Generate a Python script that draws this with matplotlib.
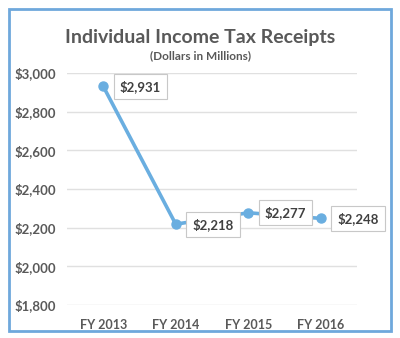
import matplotlib.pyplot as plt
from matplotlib.patches import Rectangle

years = ["FY 2013", "FY 2014", "FY 2015", "FY 2016"]
receipts = [2931, 2218, 2277, 2248]
yticks = [1800, 2000, 2200, 2400, 2600, 2800, 3000]

plt.rcParams['font.family'] = ['Lato', 'DejaVu Sans']

fig = plt.figure(figsize=(4, 3.38), dpi=100)
ax = fig.add_axes([67 / 400, 1 - 305 / 338, 290 / 400, 232 / 338])

# outer blue frame
fig.patches.append(Rectangle((9 / 400, 1 - 331 / 338), 382 / 400, 322 / 338,
                             transform=fig.transFigure, fill=False,
                             edgecolor='#6fa8dc', linewidth=2))

blue = '#6aaee0'
x = list(range(len(years)))
ax.plot(x, receipts, '-o', color=blue, linewidth=2.6, markersize=6.5)

for xi, v in zip(x, receipts):
    ax.annotate(f"${v:,}", (xi, v), xytext=(12, 0), textcoords='offset points',
                ha='left', va='center', fontsize=9.5, fontweight='bold', color='#404040',
                bbox=dict(boxstyle='square,pad=0.45', fc='white', ec='#c8c8c8', lw=0.8))

ax.set_xlim(-0.5, 3.5)
ax.set_ylim(1800, 3000)
ax.set_yticks(yticks)
ax.set_yticklabels([f"${t:,}" for t in yticks], fontsize=9.5, fontweight='bold', color='#595959')
ax.set_xticks(x)
ax.set_xticklabels(years, fontsize=9, fontweight='bold', color='#595959')
ax.tick_params(length=0, pad=8)
ax.tick_params(axis='x', pad=10)
ax.grid(axis='y', color='#e0e0e0', linewidth=1)
ax.set_axisbelow(True)
for s in ax.spines.values():
    s.set_visible(False)

fig.text(0.5, 1 - 37 / 338, "Individual Income Tax Receipts", ha='center', va='center',
         fontsize=14, fontweight='bold', color='#595959')
fig.text(0.5, 1 - 56 / 338, "(Dollars in Millions)", ha='center', va='center',
         fontsize=8.5, fontweight='bold', color='#595959')

fig.savefig("out.png", dpi=100)
